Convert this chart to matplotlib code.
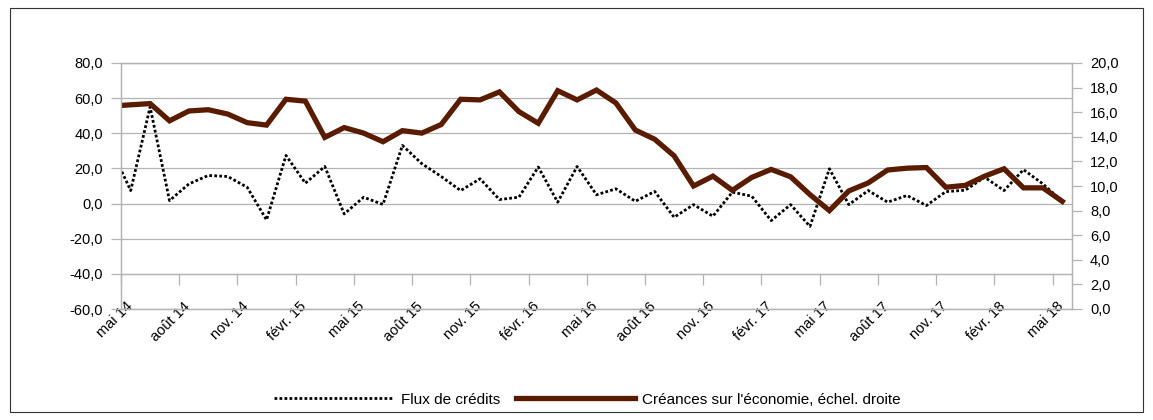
import numpy as np
import matplotlib.pyplot as plt
from matplotlib.patches import Rectangle
from matplotlib.transforms import ScaledTranslation

plt.rcParams['font.family'] = ['Liberation Sans', 'DejaVu Sans']

# monthly values, avr.14 (clipped at the axis) to mai18
flux_credits = [31.0, 7.4, 55.0, 1.7, 11.2, 16.0, 15.4, 9.3, -9.3, 27.4,
                11.6, 21.1, -5.9, 3.6, -0.5, 33.1, 22.7, 15.4, 7.4, 14.1,
                2.3, 3.6, 20.8, 0.8, 21.1, 5.0, 8.4, 1.3, 6.9, -7.8,
                -0.6, -7.2, 6.5, 4.2, -9.7, -0.6, -13.0, 19.8, -0.6, 7.4,
                0.8, 4.6, -1.1, 6.8, 7.6, 15.0, 7.4, 19.3, 11.2, 1.2]
creances = [16.5, 16.6, 16.7, 15.3, 16.1, 16.2, 15.85, 15.15, 14.95, 17.05,
            16.9, 13.95, 14.75, 14.3, 13.6, 14.5, 14.3, 15.0, 17.05, 17.0,
            17.65, 16.05, 15.1, 17.75, 17.0, 17.8, 16.75, 14.55, 13.8, 12.45,
            10.0, 10.8, 9.65, 10.7, 11.35, 10.75, 9.3, 8.0, 9.6, 10.25,
            11.3, 11.45, 11.5, 9.9, 10.05, 10.8, 11.4, 9.85, 9.85, 8.75]

tick_labels = ['mai 14', 'août 14', 'nov. 14', 'févr. 15', 'mai 15', 'août 15',
               'nov. 15', 'févr. 16', 'mai 16', 'août 16', 'nov. 16', 'févr. 17',
               'mai 17', 'août 17', 'nov. 17', 'févr. 18', 'mai 18']
left_ticks = [-60, -40, -20, 0, 20, 40, 60, 80]
right_ticks = [0, 2, 4, 6, 8, 10, 12, 14, 16, 18, 20]

grid_col = '#b3b3b3'
brown = '#5a1c00'

# points sit in the middle of each month, first one is avr.14
x = np.arange(len(flux_credits)) - 0.5

fig = plt.figure(figsize=(11.53, 4.2), dpi=100)
ax = fig.add_axes([121 / 1153, 1 - 309 / 420, (1072 - 121) / 1153, (309 - 63) / 420])

ax.plot(x, flux_credits, color='black', lw=2.0, linestyle=(0, (1, 0.8)),
        label='Flux de crédits', zorder=3)
ax.set_xlim(0, 49)
ax.set_ylim(-60, 80)
ax.set_yticks(left_ticks)
ax.set_yticklabels([f'{v:.1f}'.replace('.', ',') for v in left_ticks], fontsize=10.5)
ax.yaxis.grid(True, color=grid_col, lw=0.9)
ax.set_axisbelow(True)

ax.set_xticks(np.arange(0, 49, 3))
ax.set_xticklabels(tick_labels, rotation=45, ha='right', va='top',
                   rotation_mode='anchor', fontsize=10.5)
ax.tick_params(axis='x', length=0, pad=-7)
shift = ScaledTranslation(4 / 100, 0, fig.dpi_scale_trans)
for lab in ax.get_xticklabels():
    lab.set_transform(lab.get_transform() + shift)
ax.tick_params(axis='y', direction='out', length=7.5, width=0.9, color=grid_col, pad=5.5)
for s in ax.spines.values():
    s.set_color(grid_col)
    s.set_linewidth(0.9)

# category axis line crosses at -40
sec = ax.secondary_xaxis(20 / 140)
sec.set_xticks(np.arange(0, 49, 3))
sec.set_xticklabels([])
sec.tick_params(axis='x', direction='out', length=8, width=0.9, color=grid_col)
sec.spines['bottom'].set_color(grid_col)
sec.spines['bottom'].set_linewidth(0.9)

ax2 = ax.twinx()
ax2.plot(x, creances, color=brown, lw=3.8, solid_joinstyle='miter',
         label="Créances sur l'économie, échel. droite")
ax2.set_ylim(0, 20)
ax2.set_yticks(right_ticks)
ax2.set_yticklabels([f'{v:.1f}'.replace('.', ',') for v in right_ticks], fontsize=10.5)
ax2.tick_params(axis='y', direction='out', length=7.5, width=0.9, color=grid_col, pad=5.5)
for s in ax2.spines.values():
    s.set_color(grid_col)
    s.set_linewidth(0.9)

h1, l1 = ax.get_legend_handles_labels()
h2, l2 = ax2.get_legend_handles_labels()
fig.legend(h1 + h2, l1 + l2, loc='center', bbox_to_anchor=(0.5096, 0.048), ncol=2,
           frameon=False, fontsize=11, handlelength=7.8, handletextpad=0.5,
           columnspacing=1.0)

fig.add_artist(Rectangle((10 / 1153, 8 / 420), 1133 / 1153, 404 / 420,
                         transform=fig.transFigure, fill=False, ec='#333333', lw=0.8))

fig.savefig('out.png', dpi=100)
